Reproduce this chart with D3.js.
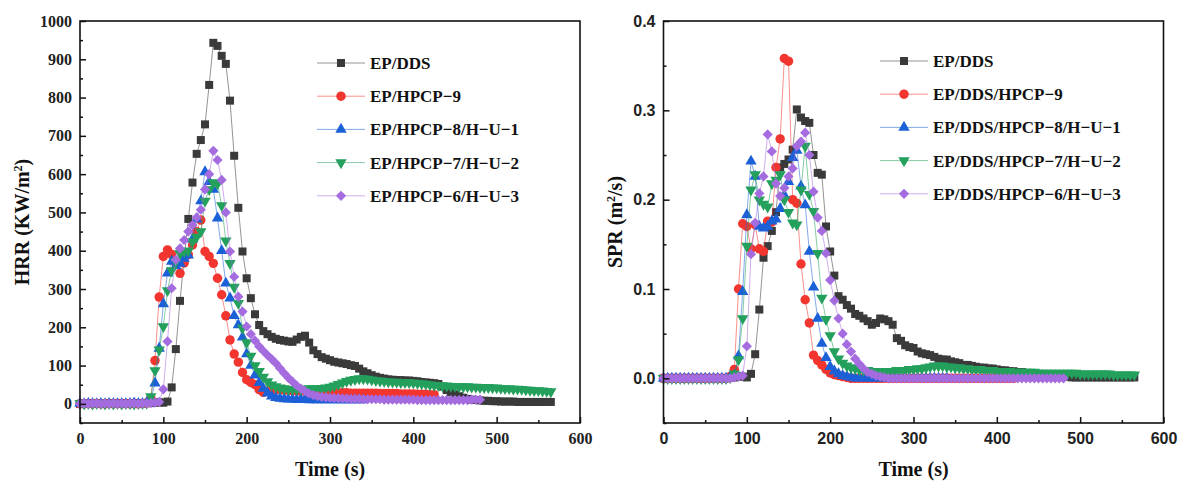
<!DOCTYPE html>
<html>
<head>
<meta charset="utf-8">
<script src="https://cdn.jsdelivr.net/npm/d3@7"></script>
<style>
  html, body { margin: 0; padding: 0; background: #ffffff; }
  svg { display: block; }
</style>
</head>
<body>
<svg id="chart" width="1182" height="483"></svg>
<script>
// Sampling instants of the cone calorimeter runs (s)
const time = [
  0,5,10,15,20,25,30,35,40,45,
  50,55,60,65,70,75,80,85,90,95,
  100,105,110,115,120,125,130,135,140,145,
  150,155,160,165,170,175,180,185,190,195,
  200,205,210,215,220,225,230,235,240,245,
  250,255,260,265,270,275,280,285,290,295,
  300,305,310,315,320,325,330,335,340,345,
  350,355,360,365,370,375,380,385,390,395,
  400,405,410,415,420,425,430,435,440,445,
  450,455,460,465,470,475,480,485,490,495,
  500,505,510,515,520,525,530,535,540,545,
  550,555,560,565
];

// Legend names
const hrrNames = ["EP/DDS", "EP/HPCP\u22129", "EP/HPCP\u22128/H\u2212U\u22121", "EP/HPCP\u22127/H\u2212U\u22122", "EP/HPCP\u22126/H\u2212U\u22123"];
const sprNames = ["EP/DDS", "EP/DDS/HPCP\u22129", "EP/DDS/HPCP\u22128/H\u2212U\u22121", "EP/DDS/HPCP\u22127/H\u2212U\u22122", "EP/DDS/HPCP\u22126/H\u2212U\u22123"];

// Heat release rate (kW/m2)
const hrrDDS = [
  0,1,0,2,1,0,1,2,0,1,
  2,1,0,1,2,1,2,2,3,4,
  3,6,43,143,269,380,483,578,653,689,
  730,833,943,935,909,888,792,648,512,398,
  328,276,234,206,190,182,175,170,167,165,
  163,162,168,175,178,160,140,130,122,118,
  114,110,108,106,104,101,99,92,85,80,
  75,71,68,66,64,63,62,62,61,61,
  60,59,57,56,55,54,52,45,36,30,
  25,20,16,13,11,10,9,8,8,7,
  7,6,6,6,6,5,5,5,5,5,
  5,5,5,5
];
const hrrHPCP9 = [
  0,0,1,0,1,0,0,1,0,1,
  0,1,0,1,0,1,2,15,113,279,
  385,402,390,367,341,368,390,415,450,480,
  398,385,367,328,285,230,167,130,109,82,
  63,56,50,37,30,33,36,38,37,36,
  35,35,34,33,33,32,32,31,31,30,
  30,30,29,29,29,28,28,28,28,28,
  28,28,27,27,27,27,27,26,26,26,
  26,25,25,25,24,24
];
const hrrHU1 = [
  1,0,1,1,0,1,0,1,1,0,
  1,0,1,2,1,1,3,10,54,145,
  261,341,372,360,367,380,388,430,482,530,
  606,580,560,485,400,315,276,230,206,174,
  130,100,75,55,40,28,20,16,14,13,
  12,12,11,11,11,10,10,10,10,10,
  10,10,10,10,10,10,10,10,10
];
const hrrHU2 = [
  1,0,1,0,1,1,0,1,0,1,
  0,1,1,0,1,1,2,19,87,141,
  202,296,348,372,393,398,400,424,436,450,
  530,560,578,575,518,426,367,305,263,198,
  160,125,100,85,70,58,50,45,42,40,
  38,38,38,38,39,40,40,40,41,42,
  44,47,51,55,59,62,64,66,66,65,
  63,61,60,59,58,57,57,56,56,56,
  55,54,53,52,50,49,48,47,47,46,
  46,45,45,45,44,44,43,43,43,42,
  42,41,40,40,39,39,38,37,36,35,
  35,34,33,32
];
const hrrHU3 = [
  0,1,0,1,1,0,1,0,1,0,
  1,0,1,1,0,1,1,2,3,5,
  38,163,302,376,406,428,450,467,487,507,
  560,600,661,637,585,500,398,332,280,241,
  202,182,165,150,138,127,117,106,93,80,
  68,58,48,40,33,27,23,20,18,17,
  16,15,15,14,14,13,13,13,12,12,
  12,12,12,11,11,11,11,11,11,11,
  11,10,10,10,10,10,10,10,10,10,
  10,10,10,10,11,11,11
];

// Smoke production rate (m2/s)
const sprDDS = [
  0,0,0,0,0,0,0,0,0,0,
  0,0,0,0,0,0,0.001,0.001,0.002,0.002,
  0.001,0.005,0.027,0.077,0.135,0.148,0.165,0.186,0.236,0.24,
  0.245,0.256,0.301,0.292,0.288,0.286,0.25,0.23,0.228,0.17,
  0.142,0.115,0.092,0.088,0.082,0.078,0.072,0.07,0.067,0.064,
  0.06,0.062,0.067,0.066,0.064,0.06,0.045,0.042,0.037,0.035,
  0.034,0.03,0.028,0.027,0.026,0.024,0.022,0.021,0.021,0.019,
  0.018,0.017,0.015,0.015,0.014,0.013,0.012,0.012,0.011,0.011,
  0.01,0.009,0.009,0.008,0.008,0.007,0.007,0.006,0.006,0.005,
  0.005,0.004,0.004,0.003,0.003,0.002,0.002,0.002,0.001,0.001,
  0.001,0.001,0.001,0.001,0.001,0.001,0.001,0.001,0.001,0.001,
  0.001,0.001,0.001,0.001
];
const sprHPCP9 = [
  0,0,0,0,0,0,0,0,0,0,
  0,0,0,0,0,0,0.002,0.01,0.1,0.173,
  0.17,0.145,0.172,0.145,0.142,0.176,0.175,0.236,0.268,0.358,
  0.355,0.2,0.196,0.128,0.088,0.062,0.026,0.02,0.015,0.01,
  0.006,0.004,0.003,0.002,0.001,0,0,0,0,0,
  0,0,0,0,0,0,0,0,0,0,
  0,0,0,0,0,0,0,0,0,0,
  0,0,0,0,0,0,0,0,0,0,
  0,0,0,0,0
];
const sprHU1 = [
  0,0,0,0,0,0,0,0,0,0,
  0,0,0,0,0,0,0.001,0.003,0.025,0.097,
  0.183,0.243,0.226,0.17,0.168,0.17,0.176,0.178,0.19,0.205,
  0.22,0.247,0.255,0.215,0.194,0.142,0.102,0.067,0.039,0.023,
  0.013,0.008,0.005,0.003,0.002,0.001,0,0,0,0,
  0,0,0,0,0,0,0,0,0,0,
  0,0,0,0,0,0,0,0,0
];
const sprHU2 = [
  0,0,0,0,0,0,0,0,0,0,
  0,0,0,0,0,0,0.001,0.005,0.021,0.067,
  0.148,0.211,0.228,0.2,0.195,0.192,0.218,0.222,0.228,0.2,
  0.186,0.174,0.172,0.211,0.26,0.206,0.187,0.14,0.09,0.066,
  0.048,0.03,0.022,0.017,0.014,0.012,0.011,0.01,0.009,0.009,
  0.008,0.008,0.008,0.008,0.008,0.008,0.009,0.009,0.009,0.01,
  0.01,0.011,0.011,0.012,0.013,0.014,0.014,0.014,0.013,0.013,
  0.012,0.012,0.011,0.011,0.01,0.01,0.01,0.009,0.009,0.009,
  0.008,0.008,0.008,0.008,0.007,0.007,0.007,0.007,0.007,0.007,
  0.006,0.006,0.006,0.006,0.006,0.006,0.006,0.006,0.006,0.006,
  0.005,0.005,0.005,0.005,0.005,0.005,0.005,0.005,0.004,0.004,
  0.004,0.004,0.004,0.004
];
const sprHU3 = [
  0,0,0,0,0,0,0,0,0,0,
  0,0,0,0,0,0,0,0.001,0.002,0.003,
  0.036,0.139,0.174,0.207,0.226,0.273,0.254,0.218,0.204,0.213,
  0.226,0.235,0.26,0.265,0.275,0.25,0.209,0.18,0.165,0.14,
  0.11,0.087,0.067,0.05,0.038,0.03,0.022,0.016,0.011,0.007,
  0.005,0.003,0.002,0.001,0,0,0,0,0,0,
  0,0,0,0,0,0,0,0,0,0,
  0,0,0,0,0,0,0,0,0,0,
  0,0,0,0,0,0,0,0,0,0,
  0,0,0,0,0,0,0
];

// Axis ticks
const timeTicks = [0, 100, 200, 300, 400, 500, 600];
const timeMinor = [50, 150, 250, 350, 450, 550];
const hrrTicks = [0, 100, 200, 300, 400, 500, 600, 700, 800, 900, 1000];
const hrrMinor = [-50, 50, 150, 250, 350, 450, 550, 650, 750, 850, 950];
const sprTicks = [0, 0.1, 0.2, 0.3, 0.4];
const sprMinor = [-0.05, 0.05, 0.15, 0.25, 0.35];

const colors = ["#3a3a3a", "#f2352f", "#1c60d8", "#23a05c", "#a56ce0"];
const shapes = ["square", "circle", "triangle", "triangleDown", "diamond"];

const SERIF = "'Liberation Serif', 'Times New Roman', serif";
const SANS = "'Liberation Sans', Arial, sans-serif";

const svg = d3.select("#chart");

function symbolPath(shape) {
  switch (shape) {
    case "square": return d3.symbol().type(d3.symbolSquare).size(64)();
    case "circle": return d3.symbol().type(d3.symbolCircle).size(70)();
    case "triangle":
    case "triangleDown": return d3.symbol().type(d3.symbolTriangle).size(56)();
    case "diamond": return d3.symbol().type(d3.symbolSquare).size(52)();
  }
}
function symbolRotate(shape) {
  if (shape === "triangleDown") return 180;
  if (shape === "diamond") return 45;
  return 0;
}

function drawPanel(cfg) {
  const x = d3.scaleLinear().domain([0, 600]).range([cfg.left, cfg.right]);
  const y = d3.scaleLinear().domain(cfg.yDomain).range([cfg.bottom, cfg.top]);
  const g = svg.append("g");

  // series: thin connecting line plus markers
  cfg.series.forEach((vals, i) => {
    const pts = vals.map((v, k) => [time[k], v]);
    const line = d3.line().x(d => x(d[0])).y(d => y(d[1]));
    g.append("path")
      .attr("d", line(pts))
      .attr("fill", "none")
      .attr("stroke", colors[i])
      .attr("stroke-opacity", 0.55)
      .attr("stroke-width", 1);
    const p = symbolPath(shapes[i]);
    const rot = symbolRotate(shapes[i]);
    g.append("g").selectAll("path")
      .data(pts)
      .join("path")
      .attr("d", p)
      .attr("transform", d => `translate(${x(d[0])},${y(d[1])}) rotate(${rot})`)
      .attr("fill", colors[i]);
  });

  // axes with inward ticks
  const xAxis = g.append("g")
    .attr("transform", `translate(0,${cfg.bottom})`)
    .call(d3.axisBottom(x).tickValues(timeTicks).tickSize(-6).tickPadding(10).tickFormat(d3.format("d")));
  const xMinor = g.append("g")
    .attr("transform", `translate(0,${cfg.bottom})`)
    .call(d3.axisBottom(x).tickValues(timeMinor).tickSize(-3).tickFormat(""));
  const yAxis = g.append("g")
    .attr("transform", `translate(${cfg.left},0)`)
    .call(d3.axisLeft(y).tickValues(cfg.yTicks).tickSize(-6).tickPadding(8).tickFormat(cfg.yFormat));
  const yMinor = g.append("g")
    .attr("transform", `translate(${cfg.left},0)`)
    .call(d3.axisLeft(y).tickValues(cfg.yMinor).tickSize(-3).tickFormat(""));

  [xAxis, xMinor, yAxis, yMinor].forEach(a => {
    a.select(".domain").remove();
    a.selectAll(".tick line").attr("stroke", "#111").attr("stroke-width", 1.5);
  });
  [xAxis, yAxis].forEach(a => {
    a.selectAll(".tick text")
      .attr("font-family", cfg.tickFont)
      .attr("font-weight", "bold")
      .attr("font-size", 16)
      .attr("fill", "#222");
  });

  // frame
  g.append("rect")
    .attr("x", cfg.left).attr("y", cfg.top)
    .attr("width", cfg.right - cfg.left).attr("height", cfg.bottom - cfg.top)
    .attr("fill", "none").attr("stroke", "#111").attr("stroke-width", 1.6);

  // axis titles
  g.append("text")
    .attr("x", (cfg.left + cfg.right) / 2).attr("y", 476)
    .attr("text-anchor", "middle")
    .attr("font-family", SERIF).attr("font-weight", "bold").attr("font-size", 20)
    .attr("fill", "#111")
    .text("Time (s)");

  const yt = g.append("text")
    .attr("transform", `translate(${cfg.yTitleX},${(cfg.top + cfg.bottom) / 2}) rotate(-90)`)
    .attr("text-anchor", "middle")
    .attr("font-family", SERIF).attr("font-weight", "bold").attr("font-size", 20)
    .attr("fill", "#111");
  yt.append("tspan").text(cfg.yTitle[0]);
  yt.append("tspan").attr("dy", -7).attr("font-size", 12).text(cfg.yTitle[1]);
  yt.append("tspan").attr("dy", 7).text(cfg.yTitle[2]);

  // legend
  const lg = g.append("g");
  cfg.names.forEach((name, i) => {
    const ly = cfg.legendY + i * 33.2;
    lg.append("line")
      .attr("x1", cfg.legendX).attr("x2", cfg.legendX + 48)
      .attr("y1", ly).attr("y2", ly)
      .attr("stroke", colors[i]).attr("stroke-opacity", 0.55).attr("stroke-width", 1);
    lg.append("path")
      .attr("d", symbolPath(shapes[i]))
      .attr("transform", `translate(${cfg.legendX + 24},${ly}) rotate(${symbolRotate(shapes[i])})`)
      .attr("fill", colors[i]);
    lg.append("text")
      .attr("x", cfg.legendX + 53).attr("y", ly + 6)
      .attr("font-family", SERIF).attr("font-weight", "bold").attr("font-size", 17)
      .attr("fill", "#111")
      .text(name);
  });
}

drawPanel({
  left: 80, right: 580, top: 21, bottom: 423,
  yDomain: [-50, 1000], yTicks: hrrTicks, yMinor: hrrMinor, yFormat: d3.format("d"),
  tickFont: SERIF,
  yTitle: ["HRR (KW/m", "2", ")"], yTitleX: 29,
  series: [hrrDDS, hrrHPCP9, hrrHU1, hrrHU2, hrrHU3],
  names: hrrNames, legendX: 317, legendY: 63
});

drawPanel({
  left: 663.5, right: 1163.5, top: 21, bottom: 423,
  yDomain: [-0.05, 0.4], yTicks: sprTicks, yMinor: sprMinor, yFormat: d3.format(".1f"),
  tickFont: SANS,
  yTitle: ["SPR (m", "2", "/s)"], yTitleX: 622,
  series: [sprDDS, sprHPCP9, sprHU1, sprHU2, sprHU3],
  names: sprNames, legendX: 880, legendY: 61
});
</script>
</body>
</html>
